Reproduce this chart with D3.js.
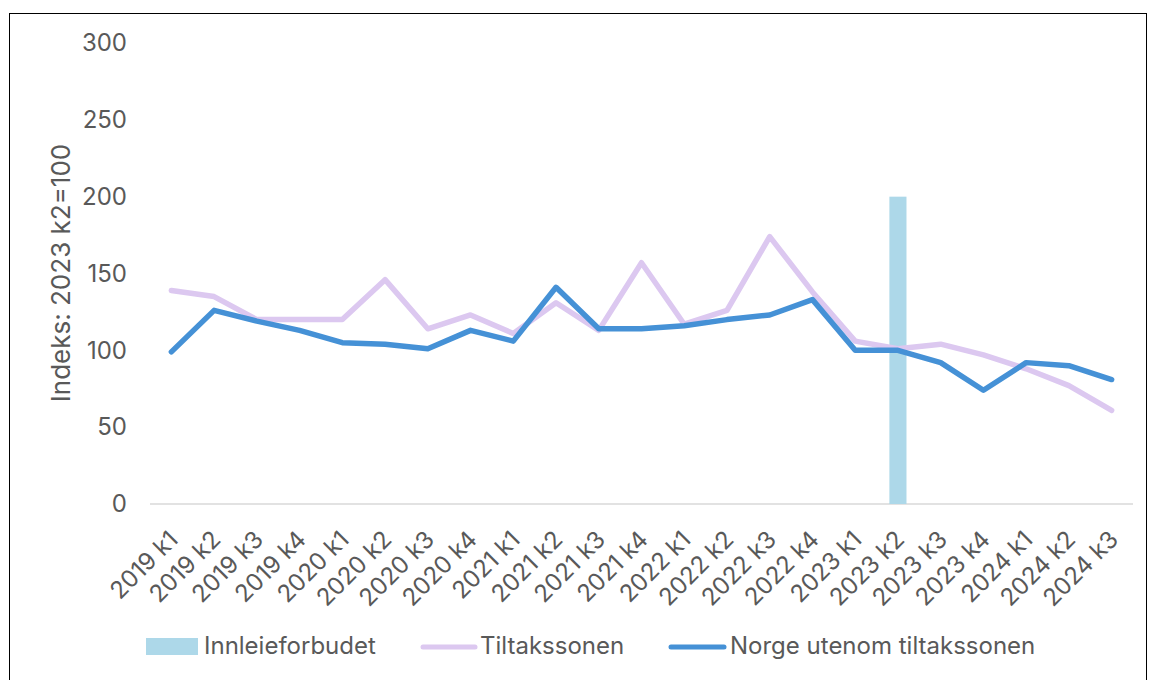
<!DOCTYPE html>
<html><head><meta charset="utf-8">
<script src="https://cdn.jsdelivr.net/npm/d3@7"></script>
<style>body{margin:0;background:#fff;font-family:Inter,"Liberation Sans",sans-serif}</style>
</head><body>
<svg id="c" width="1149" height="680"></svg>
<script>
const categories = ["2019 k1","2019 k2","2019 k3","2019 k4","2020 k1","2020 k2","2020 k3","2020 k4","2021 k1","2021 k2","2021 k3","2021 k4","2022 k1","2022 k2","2022 k3","2022 k4","2023 k1","2023 k2","2023 k3","2023 k4","2024 k1","2024 k2","2024 k3"];
const tiltakssonen = [139,135,120,120,120,146,114,123,111,131,113,157,117,126,174,138,106,101,104,97,88,77,61];
const norgeUtenom = [99,126,119,113,105,104,101,113,106,141,114,114,116,120,123,133,100,100,92,74,92,90,81];
const innleieforbudet = [{cat:"2023 k2", value:200}];
const yTicks = [0,50,100,150,200,250,300];

(function(){
const svg = d3.select("#c");
const txt = "#595959";
const ff = "Inter,'Liberation Sans',sans-serif";
svg.append("rect").attr("x",9.5).attr("y",13.5).attr("width",1137).attr("height",700)
  .attr("fill","#fff").attr("stroke","#000").attr("stroke-width",1);

const mL=150, mR=1133, mT=43, mB=504;
const x = d3.scaleBand().domain(categories).range([mL,mR]);
const y = d3.scaleLinear().domain([0,300]).range([mB,mT]);

const ya = svg.append("g").attr("transform",`translate(127,0)`)
  .call(d3.axisLeft(y).tickValues(yTicks).tickSize(0).tickPadding(0));
ya.select(".domain").remove();
ya.selectAll("text").attr("fill",txt).style("font-size","24px").style("font-family",ff);

svg.append("line").attr("x1",mL).attr("x2",mR).attr("y1",y(0)).attr("y2",y(0))
  .attr("stroke","#d9d9d9").attr("stroke-width",1.5);

svg.selectAll("rect.bar").data(innleieforbudet).join("rect").attr("class","bar")
  .attr("x",d=>x(d.cat)+x.bandwidth()*0.3).attr("width",x.bandwidth()*0.4)
  .attr("y",d=>y(d.value)).attr("height",d=>y(0)-y(d.value)).attr("fill","#add8e9");

const cx = c => x(c)+x.bandwidth()/2;
const line = d3.line().x((d,i)=>cx(categories[i])).y(d=>y(d));
svg.append("path").datum(tiltakssonen).attr("d",line).attr("fill","none")
  .attr("stroke","#dcc8f0").attr("stroke-width",5.5).attr("stroke-linejoin","round").attr("stroke-linecap","round");
svg.append("path").datum(norgeUtenom).attr("d",line).attr("fill","none")
  .attr("stroke","#4591d6").attr("stroke-width",5.5).attr("stroke-linejoin","round").attr("stroke-linecap","round");

const xa = svg.append("g").attr("transform",`translate(0,${mB})`)
  .call(d3.axisBottom(x).tickSize(0).tickPadding(0));
xa.select(".domain").remove();
xa.selectAll("text").attr("fill",txt).style("font-size","24px").style("font-family",ff)
  .attr("text-anchor","end").attr("dy",0).attr("y",0).attr("transform","translate(8,37) rotate(-45)");

svg.append("text").attr("transform",`translate(70,273) rotate(-90)`)
  .attr("text-anchor","middle").attr("fill",txt).style("font-size","26px").style("font-family",ff).text("Indeks: 2023 k2=100");

const lg = svg.append("g").style("font-size","24px").style("font-family",ff);
lg.append("rect").attr("x",146).attr("y",638).attr("width",52).attr("height",17).attr("fill","#add8e9");
lg.append("text").attr("x",204).attr("y",654).attr("fill",txt).text("Innleieforbudet");
lg.append("line").attr("x1",423).attr("x2",475).attr("y1",647).attr("y2",647).attr("stroke","#dcc8f0").attr("stroke-width",5).attr("stroke-linecap","round");
lg.append("text").attr("x",480).attr("y",654).attr("fill",txt).text("Tiltakssonen");
lg.append("line").attr("x1",671).attr("x2",724).attr("y1",647).attr("y2",647).attr("stroke","#4591d6").attr("stroke-width",5).attr("stroke-linecap","round");
lg.append("text").attr("x",730).attr("y",654).attr("fill",txt).text("Norge utenom tiltakssonen");
})();
</script>
</body></html>
